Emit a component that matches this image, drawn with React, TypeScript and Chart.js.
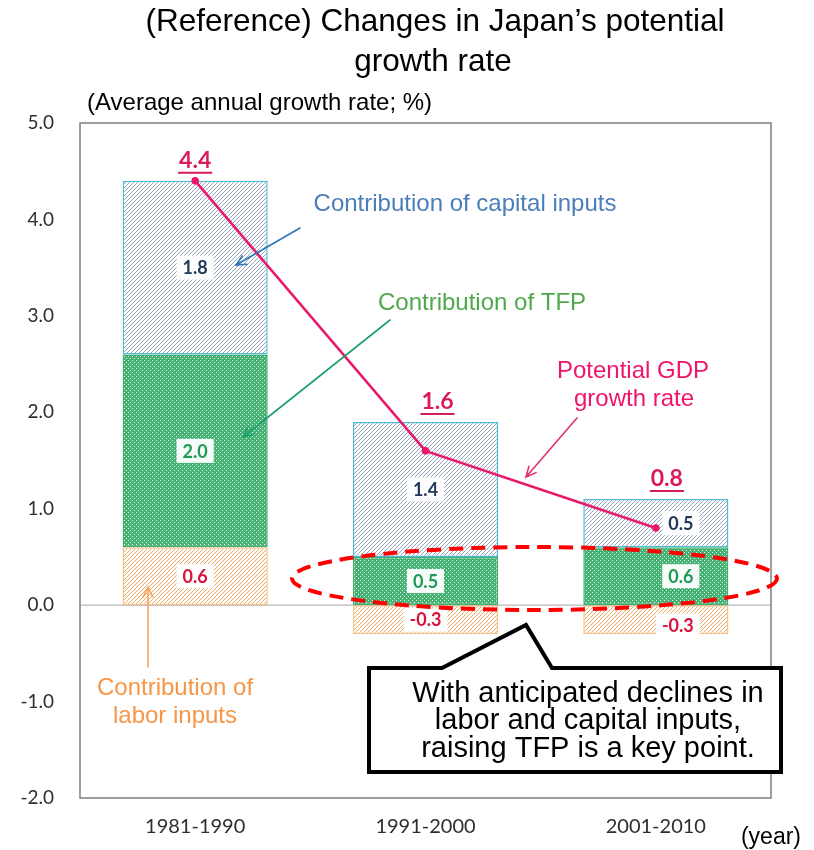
import React, { useEffect, useRef } from 'react';
import { Chart, registerables } from 'chart.js';

Chart.register(...registerables);

// ---- data ----
const categories = ['1981-1990', '1991-2000', '2001-2010'];
const laborContribution = [0.6, -0.3, -0.3];
const tfpContribution = [2.0, 0.5, 0.6];
const capitalContribution = [1.8, 1.4, 0.5];
const potentialGrowth = [4.4, 1.6, 0.8];
const yMin = -2;
const yMax = 5;
const yStep = 1;

const FONT_SANS = '"Liberation Sans", Arial, sans-serif';
const FONT_CAL = 'Lato, "Open Sans", sans-serif';

function hatchPattern(line: string, bg: string, size = 4): CanvasPattern | string {
  const c = document.createElement('canvas');
  c.width = size;
  c.height = size;
  const g = c.getContext('2d');
  if (!g) return bg;
  g.fillStyle = bg;
  g.fillRect(0, 0, size, size);
  g.strokeStyle = line;
  g.lineWidth = 1;
  g.beginPath();
  g.moveTo(0, size);
  g.lineTo(size, 0);
  g.moveTo(-1, 1);
  g.lineTo(1, -1);
  g.moveTo(size - 1, size + 1);
  g.lineTo(size + 1, size - 1);
  g.stroke();
  return g.createPattern(c, 'repeat') || bg;
}

function dotPattern(fg: string, dot: string): CanvasPattern | string {
  const c = document.createElement('canvas');
  c.width = 4;
  c.height = 4;
  const g = c.getContext('2d');
  if (!g) return fg;
  g.fillStyle = fg;
  g.fillRect(0, 0, 4, 4);
  g.fillStyle = dot;
  g.fillRect(0, 0, 1, 1);
  g.fillRect(2, 2, 1, 1);
  return g.createPattern(c, 'repeat') || fg;
}

function drawArrow(ctx: CanvasRenderingContext2D, x1: number, y1: number, x2: number, y2: number, color: string, width = 1.6, head = 11) {
  ctx.save();
  ctx.strokeStyle = color;
  ctx.lineWidth = width;
  ctx.lineCap = 'round';
  ctx.beginPath();
  ctx.moveTo(x1, y1);
  ctx.lineTo(x2, y2);
  const a = Math.atan2(y2 - y1, x2 - x1);
  const s = 0.45;
  ctx.moveTo(x2 - head * Math.cos(a - s), y2 - head * Math.sin(a - s));
  ctx.lineTo(x2, y2);
  ctx.lineTo(x2 - head * Math.cos(a + s), y2 - head * Math.sin(a + s));
  ctx.stroke();
  ctx.restore();
}

const labelColors = ['#D8123C', '#1E9A55', '#22395A'];
const labelDx = [0, 0, 25];

const overlayPlugin = {
  id: 'overlay',
  beforeDatasetsDraw(chart: any) {
    const { ctx, chartArea, scales } = chart;
    const y0 = scales.y.getPixelForValue(0);
    ctx.save();
    ctx.strokeStyle = '#A6A6A6';
    ctx.lineWidth = 1;
    ctx.beginPath();
    ctx.moveTo(chartArea.left, y0);
    ctx.lineTo(chartArea.right, y0);
    ctx.stroke();
    ctx.restore();
  },
  afterDatasetsDraw(chart: any) {
    const { ctx, chartArea } = chart;
    // plot frame
    ctx.save();
    ctx.strokeStyle = '#7F7F7F';
    ctx.lineWidth = 1.5;
    ctx.strokeRect(chartArea.left, chartArea.top, chartArea.right - chartArea.left, chartArea.bottom - chartArea.top);
    ctx.restore();

    // segment value labels
    const barSets = [1, 2, 3];
    barSets.forEach((dsIndex, k) => {
      const meta = chart.getDatasetMeta(dsIndex);
      const data = chart.data.datasets[dsIndex].data as number[];
      meta.data.forEach((el: any, i: number) => {
        const v = data[i];
        const txt = v.toFixed(1);
        let x = el.x + labelDx[i];
        let y = (el.y + el.base) / 2;
        if (k === 0 && i === 2) { x -= 3; y += 6; }
        ctx.save();
        ctx.font = `bold 18px ${FONT_CAL}`;
        const w = ctx.measureText(txt).width;
        ctx.fillStyle = 'rgba(255,255,255,0.95)';
        ctx.fillRect(x - w / 2 - 6, y - 12, w + 12, 24);
        ctx.fillStyle = labelColors[k];
        ctx.textAlign = 'center';
        ctx.textBaseline = 'middle';
        ctx.fillText(txt, x, y + 1);
        ctx.restore();
      });
    });

    // totals above bars
    const capMeta = chart.getDatasetMeta(3);
    const totalDx = [0, 12, 11];
    capMeta.data.forEach((el: any, i: number) => {
      const txt = potentialGrowth[i].toFixed(1);
      const x = el.x + totalDx[i];
      const y = el.y - 20;
      ctx.save();
      ctx.font = `bold 23px ${FONT_CAL}`;
      ctx.fillStyle = '#D81B60';
      ctx.textAlign = 'center';
      ctx.textBaseline = 'middle';
      ctx.fillText(txt, x, y);
      const w = ctx.measureText(txt).width;
      ctx.strokeStyle = '#D81B60';
      ctx.lineWidth = 2;
      ctx.beginPath();
      ctx.moveTo(x - w / 2 - 1, y + 12);
      ctx.lineTo(x + w / 2 + 1, y + 12);
      ctx.stroke();
      ctx.restore();
    });
  },
  afterDraw(chart: any) {
    const { ctx } = chart;
    ctx.save();
    // title
    ctx.fillStyle = '#000';
    ctx.textAlign = 'center';
    ctx.textBaseline = 'middle';
    ctx.font = `31.5px ${FONT_SANS}`;
    ctx.fillText('(Reference) Changes in Japan\u2019s potential', 435, 22);
    ctx.fillText('growth rate', 433, 62);
    ctx.font = `24px ${FONT_SANS}`;
    ctx.textAlign = 'left';
    ctx.fillText('(Average annual growth rate; %)', 87, 103);
    ctx.font = `23px ${FONT_SANS}`;
    ctx.textAlign = 'right';
    ctx.fillText('(year)', 801, 838);

    // series annotations
    ctx.textAlign = 'center';
    ctx.font = `24px ${FONT_SANS}`;
    ctx.fillStyle = '#4A7EBB';
    ctx.fillText('Contribution of capital inputs', 465, 204);
    ctx.fillStyle = '#4EA94B';
    ctx.fillText('Contribution of TFP', 482, 303);
    ctx.fillStyle = '#F0146A';
    ctx.fillText('Potential GDP', 633, 371);
    ctx.fillText('growth rate', 634, 399);
    ctx.fillStyle = '#F79646';
    ctx.fillText('Contribution of', 175, 688);
    ctx.fillText('labor inputs', 175, 716);
    ctx.restore();

    drawArrow(ctx, 300, 228, 236, 265, '#2E75B6');
    drawArrow(ctx, 390, 320, 243, 437, '#1F9E6E');
    drawArrow(ctx, 577, 418, 526, 477, '#E0306E');
    drawArrow(ctx, 148, 667, 148, 587, '#F4A460');

    // dashed ellipse
    ctx.save();
    ctx.strokeStyle = '#FF0000';
    ctx.lineWidth = 4;
    ctx.setLineDash([14, 8]);
    ctx.beginPath();
    ctx.ellipse(534.5, 578.5, 242.5, 31.5, 0, 0, Math.PI * 2);
    ctx.stroke();
    ctx.restore();

    // callout box
    ctx.save();
    ctx.fillStyle = '#FFFFFF';
    ctx.strokeStyle = '#000000';
    ctx.lineWidth = 4;
    ctx.lineJoin = 'miter';
    ctx.beginPath();
    ctx.moveTo(369, 668);
    ctx.lineTo(442, 668);
    ctx.lineTo(526, 625);
    ctx.lineTo(552, 668);
    ctx.lineTo(781, 668);
    ctx.lineTo(781, 772);
    ctx.lineTo(369, 772);
    ctx.closePath();
    ctx.fill();
    ctx.stroke();
    ctx.fillStyle = '#000';
    ctx.textAlign = 'center';
    ctx.textBaseline = 'alphabetic';
    ctx.font = `29px ${FONT_SANS}`;
    ctx.fillText('With anticipated declines in', 588, 702);
    ctx.fillText('labor and capital inputs,', 588, 729);
    ctx.fillText('raising TFP is a key point.', 588, 757);
    ctx.restore();
  },
};

export default function App() {
  const ref = useRef<HTMLCanvasElement | null>(null);
  useEffect(() => {
    if (!ref.current) return;
    const capFill = hatchPattern('#95A6BA', '#FFFFFF');
    const tfpFill = dotPattern('#45B274', '#E6F7ED');
    const laborFill = hatchPattern('#F2AA62', '#FFFFFF');
    const chart = new Chart(ref.current, {
      type: 'bar',
      data: {
        labels: categories,
        datasets: [
          {
            type: 'line',
            label: 'Potential GDP growth rate',
            data: potentialGrowth,
            borderColor: '#E8196B',
            backgroundColor: '#E8196B',
            borderWidth: 2.5,
            pointRadius: 3.8,
            pointBackgroundColor: '#E8196B',
            pointBorderWidth: 0,
            order: 0,
          } as any,
          {
            label: 'Contribution of labor inputs',
            data: laborContribution,
            backgroundColor: laborFill as any,
            borderColor: '#F6C089',
            borderWidth: 1.5,
            borderSkipped: false,
            order: 1,
          },
          {
            label: 'Contribution of TFP',
            data: tfpContribution,
            backgroundColor: tfpFill as any,
            borderColor: '#3DAE70',
            borderWidth: 1.5,
            borderSkipped: false,
            order: 1,
          },
          {
            label: 'Contribution of capital inputs',
            data: capitalContribution,
            backgroundColor: capFill as any,
            borderColor: '#4FBAD8',
            borderWidth: 1.5,
            borderSkipped: false,
            order: 1,
          },
        ],
      },
      options: {
        responsive: false,
        animation: false,
        devicePixelRatio: 1,
        layout: { padding: { top: 123, right: 43, left: 0, bottom: 0 } },
        datasets: {
          bar: { categoryPercentage: 1, barPercentage: 0.63 },
        },
        plugins: {
          legend: { display: false },
          title: { display: false },
          tooltip: { enabled: false },
        },
        scales: {
          x: {
            stacked: true,
            grid: { display: false, drawTicks: false },
            border: { display: false },
            ticks: {
              padding: 17,
              color: '#2E2E2E',
              font: { family: 'Lato, "Open Sans", sans-serif', size: 20 },
            },
            afterFit: (s: any) => { s.height = 52; },
          },
          y: {
            stacked: true,
            min: yMin,
            max: yMax,
            grid: { display: false, drawTicks: false },
            border: { display: false },
            ticks: {
              stepSize: yStep,
              padding: 26,
              color: '#2E2E2E',
              font: { family: 'Lato, "Open Sans", sans-serif', size: 19 },
              callback: (v: any) => Number(v).toFixed(1),
            },
            afterFit: (s: any) => { s.width = 80; },
          },
        },
      },
      plugins: [overlayPlugin],
    });
    return () => chart.destroy();
  }, []);
  return (
    <div style={{ position: 'absolute', left: 0, top: 0, width: 814, height: 850, background: '#fff' }}>
      <canvas ref={ref} width={814} height={850} style={{ display: 'block', width: 814, height: 850 }} />
    </div>
  );
}
